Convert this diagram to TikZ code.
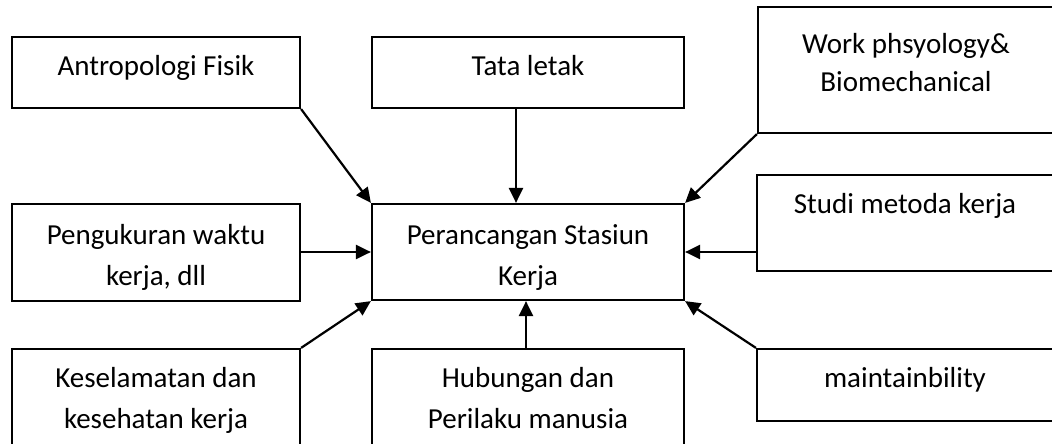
\documentclass[tikz,border=0pt]{standalone}
\usepackage{fontspec}
\setmainfont{Carlito}
\usetikzlibrary{arrows.meta,calc}
\begin{document}
\begin{tikzpicture}[x=1pt,y=-1pt,
  box/.style={draw=black, line width=2.2pt, rectangle, inner sep=0pt},
  lbl/.style={anchor=base, align=center, inner sep=0pt, font=\fontsize{29}{41}\selectfont},
  conn/.style={line width=2.2pt, -{Triangle[length=15pt,width=14pt]}}]
\useasboundingbox (0,0) rectangle (1052,444);
\clip (0,0) rectangle (1052,444);
% boxes
\node[box, minimum width=288pt, minimum height=71pt] (antro) at (156,72.5) {};
\node[box, minimum width=312pt, minimum height=71pt] (tata) at (528,72.5) {};
\node[box, minimum width=296pt, minimum height=126pt] (work) at (906,70) {};
\node[box, minimum width=288pt, minimum height=97pt] (peng) at (156,252.5) {};
\node[box, minimum width=312pt, minimum height=96pt] (center) at (528,252) {};
\node[box, minimum width=297pt, minimum height=96pt] (studi) at (905.5,223) {};
\node[box, minimum width=288pt, minimum height=111pt] (kesel) at (156,404.5) {};
\node[box, minimum width=312pt, minimum height=111pt] (hub) at (528,404.5) {};
\node[box, minimum width=297pt, minimum height=72pt] (maint) at (905.5,385) {};
% labels (base anchor = baseline of the last line)
\node[lbl] (tantro) at (156,75) {Antropologi Fisik};
\node[lbl] (ttata) at (528,75) {Tata letak};
\node[lbl, font=\fontsize{29}{38}\selectfont] (twork) at (906,92) {Work phsyology\&\\Biomechanical};
\node[lbl] (tpeng) at (156,285) {Pengukuran waktu\\kerja, dll};
\node[lbl] (tcenter) at (528,285) {Perancangan Stasiun\\Kerja};
\node[lbl] (tstudi) at (905,213) {Studi metoda kerja};
\node[lbl] (tkesel) at (156,428) {Keselamatan dan\\kesehatan kerja};
\node[lbl] (thub) at (528,428) {Hubungan dan\\Perilaku manusia};
\node[lbl] (tmaint) at (905,387) {maintainbility};
% connectors
\draw[conn] (antro.south east) -- (center.north west);
\draw[conn] ([xshift=-12pt]tata.south) -- ([xshift=-12pt]center.north);
\draw[conn] (work.south west) -- (center.north east);
\draw[conn] (peng.east |- center.west) -- (center.west);
\draw[conn] (studi.west |- center.east) -- (center.east);
\draw[conn] (kesel.north east) -- (center.south west);
\draw[conn] ([xshift=-2pt]hub.north) -- ([xshift=-2pt]center.south);
\draw[conn] (maint.north west) -- (center.south east);
\end{tikzpicture}
\end{document}
